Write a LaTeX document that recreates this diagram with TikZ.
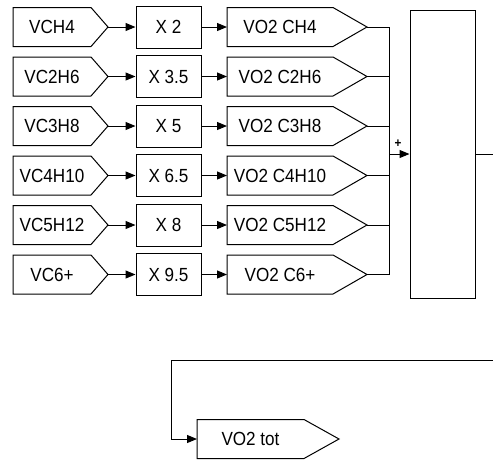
\documentclass[tikz,border=0pt]{standalone}
\usepackage{fontspec}
\setmainfont[FakeStretch=0.9]{Liberation Sans}
\usetikzlibrary{arrows.meta,calc}
\begin{document}
\begin{tikzpicture}[x=1pt,y=-1pt,
  line width=1pt,
  every node/.style={font=\fontsize{19}{19}\selectfont},
  tagbody/.style={inner sep=0pt, minimum height=38pt, anchor=west},
  gainbox/.style={draw, inner sep=0pt, minimum width=65pt, minimum height=42pt},
  sumbox/.style={draw, inner sep=0pt, minimum width=65pt, minimum height=288pt},
  conn/.style={-{Triangle[length=10pt,width=8pt]}}
]
\useasboundingbox (0,0) rectangle (493,459);

\foreach \i/\a/\g/\o in {1/VCH4/X 2/VO2 CH4,2/VC2H6/X 3.5/VO2 C2H6,3/VC3H8/X 5/VO2 C3H8,4/VC4H10/X 6.5/VO2 C4H10,5/VC5H12/X 8/VO2 C5H12,6/VC6+/X 9.5/VO2 C6+}{
  \pgfmathsetmacro{\yy}{27+(\i-1)*49.5}
  % input tag
  \node[tagbody, minimum width=77pt] (in\i) at (13,\yy) {\a};
  \coordinate (in\i-tip) at ($(in\i.east)+(17,0)$);
  \draw (in\i.north west) -- (in\i.north east) -- (in\i-tip) -- (in\i.south east) -- (in\i.south west) -- cycle;
  % gain
  \node[gainbox] (g\i) at (168.5,\yy) {\g};
  % output tag
  \node[tagbody, minimum width=105pt] (o\i) at (227,\yy) {\o};
  \coordinate (o\i-tip) at ($(o\i.east)+(34,0)$);
  \draw (o\i.north west) -- (o\i.north east) -- (o\i-tip) -- (o\i.south east) -- (o\i.south west) -- cycle;
  % connectors
  \draw[conn] (in\i-tip) -- (g\i.west);
  \draw[conn] (g\i.east) -- (o\i.west);
}

% sum block
\node[sumbox] (sum) at (442.5,154) {};
\coordinate (busx) at (389,0);
\draw (o1-tip) -| (busx |- o6-tip) -- (o6-tip);
\foreach \i in {2,3,4,5}{
  \draw (o\i-tip) -- (busx |- o\i-tip);
}
\draw[conn] (busx |- sum.west) -- (sum.west);
\node[font=\fontsize{13}{13}\selectfont\bfseries, inner sep=0pt] (plus) at (398,144) {+};

% output of sum
\coordinate (outR) at (493,154);
\draw (sum.east) -- (outR);

% VO2 tot
\node[tagbody, minimum width=106pt] (tot) at (197,439) {VO2 tot};
\coordinate (tot-tip) at ($(tot.east)+(35,0)$);
\draw (tot.north west) -- (tot.north east) -- (tot-tip) -- (tot.south east) -- (tot.south west) -- cycle;

\coordinate (fbR) at (493,360);
\coordinate (fbL) at (171,360);
\draw[conn] (fbR) -- (fbL) |- (tot.west);
\end{tikzpicture}
\end{document}
